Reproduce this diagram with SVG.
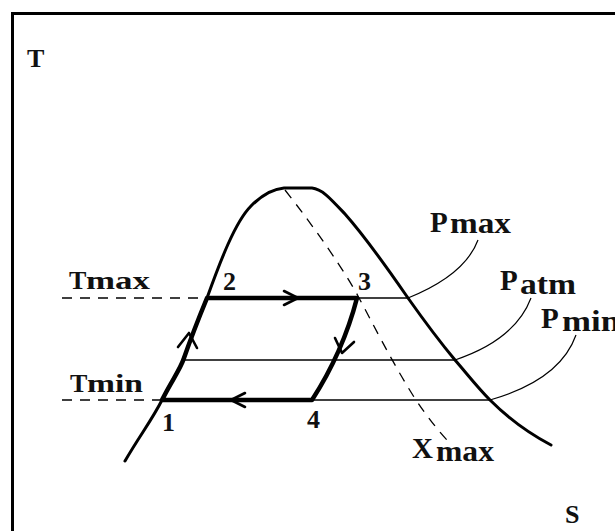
<svg xmlns="http://www.w3.org/2000/svg" width="615" height="531" viewBox="0 0 615 531">
<style>
.lbl{font-family:"Liberation Serif","Times New Roman",serif;font-weight:bold;font-size:26px;fill:#111}
.big{font-size:29px}
.dome{fill:none;stroke:#000;stroke-width:3;stroke-linecap:round;stroke-linejoin:round}
.cyc{fill:none;stroke:#000;stroke-width:4.5;stroke-linejoin:round;stroke-linecap:round}
.thin{fill:none;stroke:#000;stroke-width:1.6}
.lead{fill:none;stroke:#000;stroke-width:1.2}
.dash{fill:none;stroke:#000;stroke-width:1.3;stroke-dasharray:10 8}
.arr{fill:none;stroke:#000;stroke-width:2.6;stroke-linecap:round;stroke-linejoin:round}
</style>
<rect width="615" height="531" fill="#fff"/>
<rect x="12.5" y="13.5" width="640" height="560" fill="none" stroke="#000" stroke-width="3"/>

<g id="axes-labels">
<text class="lbl" x="27" y="67">T</text>
<text class="lbl" x="565" y="523">S</text>
</g>

<g id="dome">
<path class="dome" d="M125,461 C140,435 152,420 162,400 C172,380 180,370 184,358 C192,335 200,315 207,298 C220,262 235,222 251,206 C262,195 272,189 284,188 L312,188 C322,189 330,198 345,214 C368,240 390,272 408,298 C425,322 440,342 455,360 C468,375 478,388 490,400 C510,420 530,434 551,445"/>
</g>

<g id="xmax-line">
<path class="dash" d="M285,190 C318,232 345,272 358,296 C372,322 392,362 414,397 C426,415 436,428 447,440"/>
</g>

<g id="connectors">
<path class="dash" d="M62,298 H207"/>
<path class="dash" d="M62,400 H162"/>
<path class="thin" d="M357,298 H408"/>
<path class="thin" d="M183,360 H456"/>
<path class="thin" d="M312,400 H490"/>
<path class="lead" d="M478,240 Q465,275 408,298"/>
<path class="lead" d="M531,298 Q515,340 455,360"/>
<path class="lead" d="M576,335 Q560,380 490,400"/>
</g>

<g id="cycle">
<path class="cyc" d="M162,400 C172,380 180,370 184,358 C192,335 200,315 207,298 L357,298 Q343,352 312,400 Z"/>
<polyline class="arr" points="284,291 298,298 284,305"/>
<polyline class="arr" points="245,393 231,400 245,407"/>
<polyline class="arr" points="178,347 189,333 197,348"/>
<polyline class="arr" points="335,338 342,353 354,342"/>
</g>

<g id="point-labels">
<text class="lbl" x="223" y="290">2</text>
<text class="lbl" x="358" y="290">3</text>
<text class="lbl" x="162" y="431">1</text>
<text class="lbl" x="307" y="428">4</text>
</g>

<g id="line-labels">
<text class="lbl" x="69" y="289">T<tspan x="86" textLength="64" lengthAdjust="spacingAndGlyphs">max</tspan></text>
<text class="lbl" x="70" y="392">T<tspan x="87" textLength="56" lengthAdjust="spacingAndGlyphs">min</tspan></text>
<text class="lbl big" x="430" y="232">P<tspan x="450" y="233" textLength="61" lengthAdjust="spacingAndGlyphs">max</tspan></text>
<text class="lbl big" x="500" y="290">P<tspan x="520" y="294" textLength="56" lengthAdjust="spacingAndGlyphs">atm</tspan></text>
<text class="lbl big" x="541" y="328">P<tspan x="562" y="331" textLength="58" lengthAdjust="spacingAndGlyphs">min</tspan></text>
<text class="lbl big" x="412" y="458">X<tspan x="436" y="461" textLength="58" lengthAdjust="spacingAndGlyphs">max</tspan></text>
</g>
</svg>
